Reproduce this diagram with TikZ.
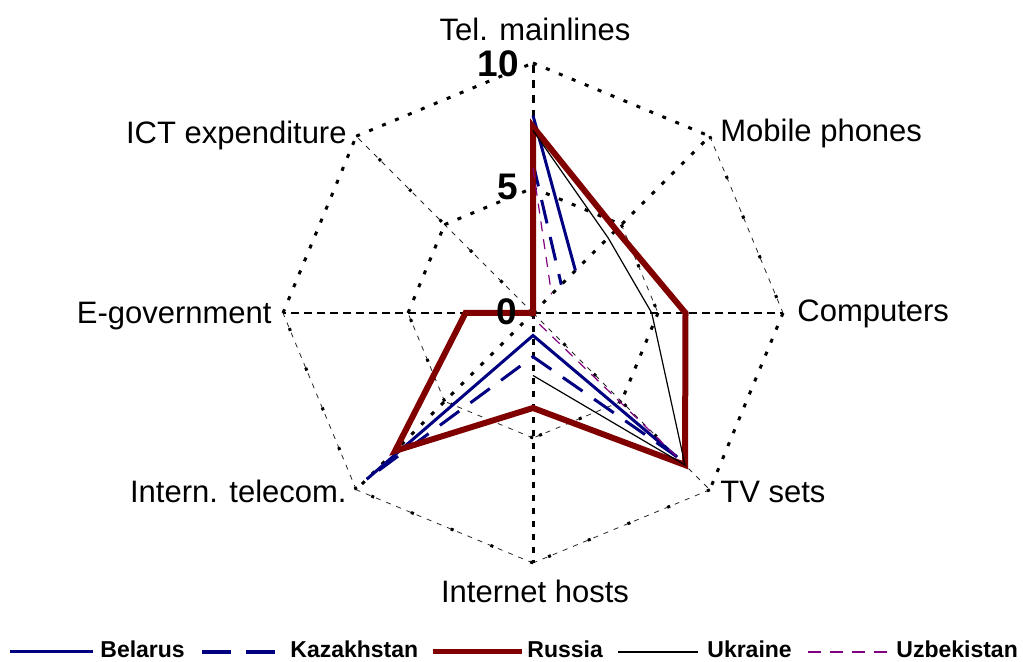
\documentclass[tikz,border=0pt]{standalone}
\usepackage{fontspec}
\setmainfont{Liberation Sans}
\usetikzlibrary{positioning,calc}
\usepackage{xcolor}
\definecolor{Navy}{RGB}{0,0,128}
\definecolor{DarkRed}{RGB}{128,0,0}
\definecolor{Plum}{RGB}{128,0,128}
\newcommand{\axfont}{\fontsize{15.5}{18}\selectfont}
\tikzset{
  gdot/.style={black,line width=1.5pt,dash pattern=on 2pt off 5pt},
  gthin/.style={black!85,line width=.4pt,dash pattern=on 2.5pt off 3pt,
                postaction={draw,black,line width=1.5pt,dash pattern=on 1.5pt off 20pt}},
  gdash/.style={black,line width=1.5pt,dash pattern=on 4pt off 3.5pt},
  gmid/.style={black,line width=1pt,dash pattern=on 4pt off 2.5pt},
  gvdot/.style={black,line width=1.5pt,dash pattern=on 3pt off 3.5pt},
  axlbl/.style={font=\axfont,inner sep=0pt},
  numlbl/.style={font=\fontsize{18.5}{20}\selectfont\bfseries,inner sep=0pt,anchor=base east},
  leglbl/.style={font=\fontsize{11.5}{13}\selectfont\bfseries,inner sep=0pt,anchor=base west},
  belarus/.style={Navy,line width=1.5pt},
  kazakh/.style={Navy,line width=1.5pt,dash pattern=on 12pt off 7pt},
  russia/.style={DarkRed,line width=3pt,line join=miter},
  ukraine/.style={black,line width=.6pt},
  uzbek/.style={Plum,line width=.6pt,dash pattern=on 5pt off 4pt},
}

\begin{document}
\begin{tikzpicture}[x=0.5pt,y=0.5pt]
  \useasboundingbox (0,0) rectangle (1023,662);
  \coordinate (ctr) at (533,349);

  \begin{scope}[shift={(ctr)},x=12.5pt,y=12.5pt]
    % grid rings and spokes
    \foreach \k/\es/\as in {0/gdot/gdash,1/gthin/gdot,2/gdot/gmid,3/gthin/gthin,
                            4/gthin/gvdot,5/gthin/gdot,6/gdot/gmid,7/gdot/gthin}{
      \draw[\as] (0,0) -- (90-45*\k:10);
      \draw[\es] (90-45*\k:10) -- (45-45*\k:10);
      \draw[\es] (90-45*\k:5) -- (45-45*\k:5);
    }
    \foreach \k in {0,...,7}
      \coordinate (ax\k) at (90-45*\k:10);

    % series
    \draw[belarus] (90:7.9) -- (45:2.4);
    \draw[belarus] (-45:8.15) -- (-90:0.9) -- (-135:9.4);
    \draw[kazakh] (90:6.0) -- (45:1.6);
    \draw[kazakh] (-45:8.1) -- (-90:1.75) -- (-135:9.4);
    \draw[russia] (90:7.45) -- (45:4.7) -- (0:6.1) -- (-45:8.6) -- (-90:3.8)
                  -- (-135:7.8) -- (180:2.7) -- (135:0) -- cycle;
    \draw[ukraine] (90:7.3) -- (45:4.25) -- (0:4.75) -- (-45:8.6) -- (-90:2.5);
    \draw[uzbek] (90:5.8) -- (45:1.05);
    \draw[uzbek] (-45:8.1) -- (-90:0.2);
  \end{scope}

  % scale numbers
  \node[numlbl] (n10) at (519,585) {10};
  \node[numlbl] (n5) at (518,462) {5};
  \node[numlbl] (n0) at (517,337) {0};

  % axis labels
  \node[axlbl,anchor=base] (tel) at (535,621) {Tel. mainlines};
  \node[axlbl,anchor=base west] (mob) at (720,520) {Mobile phones};
  \node[axlbl,anchor=base west] (comp) at (797,340) {Computers};
  \node[axlbl,anchor=base west] (tv) at (720,159) {TV sets};
  \node[axlbl,anchor=base] (hosts) at (535,59) {Internet hosts};
  \node[axlbl,anchor=base east] (tele) at (347,159) {Intern. telecom.};
  \node[axlbl,anchor=base east] (egov) at (272,338) {E-government};
  \node[axlbl,anchor=base east] (ict) at (347,518) {ICT expenditure};

  % legend
  \coordinate (l1a) at (10,10);   \coordinate (l1b) at (93,10);
  \coordinate (l2a) at (202,10);  \coordinate (l2b) at (275,10);
  \coordinate (l3a) at (433,10);  \coordinate (l3b) at (522,10);
  \coordinate (l4a) at (618,10);  \coordinate (l4b) at (698,10);
  \coordinate (l5a) at (808,10);  \coordinate (l5b) at (888,10);
  \draw[belarus] (l1a) -- (l1b);
  \draw[Navy,line width=2pt,dash pattern=on 14.5pt off 7.5pt] (l2a) -- (l2b);
  \draw[DarkRed,line width=2.5pt] (l3a) -- (l3b);
  \draw[black,line width=.75pt] (l4a) -- (l4b);
  \draw[Plum,line width=.75pt,dash pattern=on 6.5pt off 4.5pt] (l5a) -- (l5b);
  \node[leglbl] (lg1) at (100,4) {Belarus};
  \node[leglbl] (lg2) at (290,4) {Kazakhstan};
  \node[leglbl] (lg3) at (527,4) {Russia};
  \node[leglbl] (lg4) at (707,4) {Ukraine};
  \node[leglbl] (lg5) at (896,4) {Uzbekistan};
\end{tikzpicture}
\end{document}
